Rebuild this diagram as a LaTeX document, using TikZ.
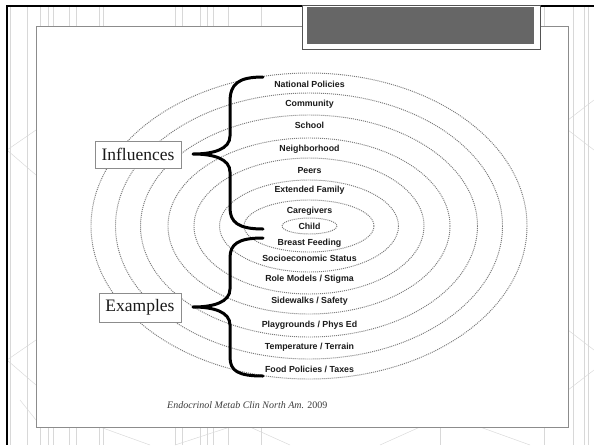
\documentclass[tikz,border=0pt]{standalone}
\usepackage{fontspec}
\setmainfont{Liberation Serif}
\newfontfamily\labfont{Liberation Sans}
\definecolor{ringgray}{HTML}{7A7A7A}
\definecolor{boxgray}{HTML}{8C8C8C}
\definecolor{darkfill}{HTML}{666666}
\definecolor{txt}{HTML}{1A1A1A}
\definecolor{faint}{HTML}{D8D8D8}
\begin{document}
\begin{tikzpicture}[x=1pt,y=-1pt,
  ring/.style={draw=ringgray, line width=0.95pt, dash pattern=on 1pt off 1pt},
  lab/.style={font=\labfont\bfseries\fontsize{8.8}{9}\selectfont, text=txt, inner sep=0pt, text height=6.4pt, text depth=0pt, anchor=center},
  tagbox/.style={draw=boxgray, line width=0.8pt, fill=white, font=\fontsize{17.5}{18}\selectfont, text=txt, inner sep=0pt},
  brace/.style={draw=black, line width=3pt, line cap=round, line join=round},
  bgline/.style={draw=faint, line width=0.45pt}
]
\useasboundingbox (0,0) rectangle (594,445);
\fill[white] (0,0) rectangle (594,445);
% faint background lines
\foreach \xx in {10,27,40,48,53,69,76,99,103,175,182,200,207,213,228,261,440,544,573,584,588}
  \draw[bgline] (\xx,6) -- (\xx,445);
\draw[bgline] (7,150) -- (36,130) (7,150) -- (36,175) (7,360) -- (36,340) (7,360) -- (36,385);
\draw[bgline] (568,120) -- (594,100) (568,130) -- (594,150) (568,330) -- (594,350) (568,390) -- (594,370);
\draw[bgline] (100,427) -- (150,445) (175,445) -- (230,427) (250,427) -- (290,445) (380,445) -- (420,427) (480,427) -- (530,445) (20,400) -- (36,420);
% frame
\draw[black, line width=2pt] (7,6) -- (594,6);
\draw[black, line width=2.6pt] (7,5) -- (7,445);
% inner panel
\draw[draw=boxgray, line width=0.9pt, fill=white] (36,26) rectangle (568,427);
% title box
\node[draw=darkgray!90, line width=1pt, fill=white, minimum width=238pt, minimum height=44pt, inner sep=0pt, anchor=north west] (titlebox) at (302,5) {};
\fill[darkfill] (307,7) rectangle (534,44);
% rings
\draw[ring] (309,226) ellipse [x radius=218, y radius=153];
\draw[ring] (309,226) ellipse [x radius=193.5, y radius=133];
\draw[ring] (309,226) ellipse [x radius=168.5, y radius=111];
\draw[ring] (309,226) ellipse [x radius=141, y radius=88];
\draw[ring] (309,226) ellipse [x radius=115, y radius=68];
\draw[ring] (309,226) ellipse [x radius=89.5, y radius=46];
\draw[ring] (309,226) ellipse [x radius=65, y radius=26];
\draw[ring] (309.5,226) ellipse [x radius=27.5, y radius=8];
% labels
\node[lab] (l1) at (309.5,84.3) {National Policies};
\node[lab] (l2) at (309.5,103.3) {Community};
\node[lab] (l3) at (309.5,125.7) {School};
\node[lab] (l4) at (309.5,148.3) {Neighborhood};
\node[lab] (l5) at (309.5,170) {Peers};
\node[lab] (l6) at (309.5,189.3) {Extended Family};
\node[lab] (l7) at (309.5,210) {Caregivers};
\node[lab] (l8) at (309.5,226.7) {Child};
\node[lab] (e1) at (309.5,242.3) {Breast Feeding};
\node[lab] (e2) at (309.5,258.7) {Socioeconomic Status};
\node[lab] (e3) at (309.5,278.3) {Role Models / Stigma};
\node[lab] (e4) at (309.5,300.7) {Sidewalks / Safety};
\node[lab] (e5) at (309.5,324) {Playgrounds / Phys Ed};
\node[lab] (e6) at (309.5,346.7) {Temperature / Terrain};
\node[lab] (e7) at (309.5,369.3) {Food Policies / Taxes};
% tag boxes
\node[tagbox, minimum width=86pt, minimum height=27pt] (infl) at (138,154.5) {Influences};
\node[tagbox, minimum width=82pt, minimum height=29pt] (exam) at (140,307.5) {Examples};
% braces
\coordinate (iT) at (263,77);
\coordinate (iP) at (193,154);
\coordinate (iB) at (263,229);
\coordinate (eT) at (263,238);
\coordinate (eP) at (193,307);
\coordinate (eB) at (263,376);
\draw[brace] (iT) .. controls (238,77) and (230,84) .. (230,102) -- (230,136)
  .. controls (230,149) and (214,154) .. (iP)
  .. controls (214,154) and (230,159) .. (230,172) -- (230,208)
  .. controls (230,222) and (238,229) .. (iB);
\draw[brace] (eT) .. controls (238,238) and (230,244) .. (230,258) -- (230,289)
  .. controls (230,302) and (214,307) .. (eP)
  .. controls (214,307) and (230,312) .. (230,325) -- (230,357)
  .. controls (230,371) and (238,376) .. (eB);
% citation
\node[anchor=west, inner sep=0pt, text=txt!85, font=\fontsize{10}{11}\selectfont] (cite) at (167,405) {\textit{Endocrinol Metab Clin North Am.} 2009};
\end{tikzpicture}
\end{document}
